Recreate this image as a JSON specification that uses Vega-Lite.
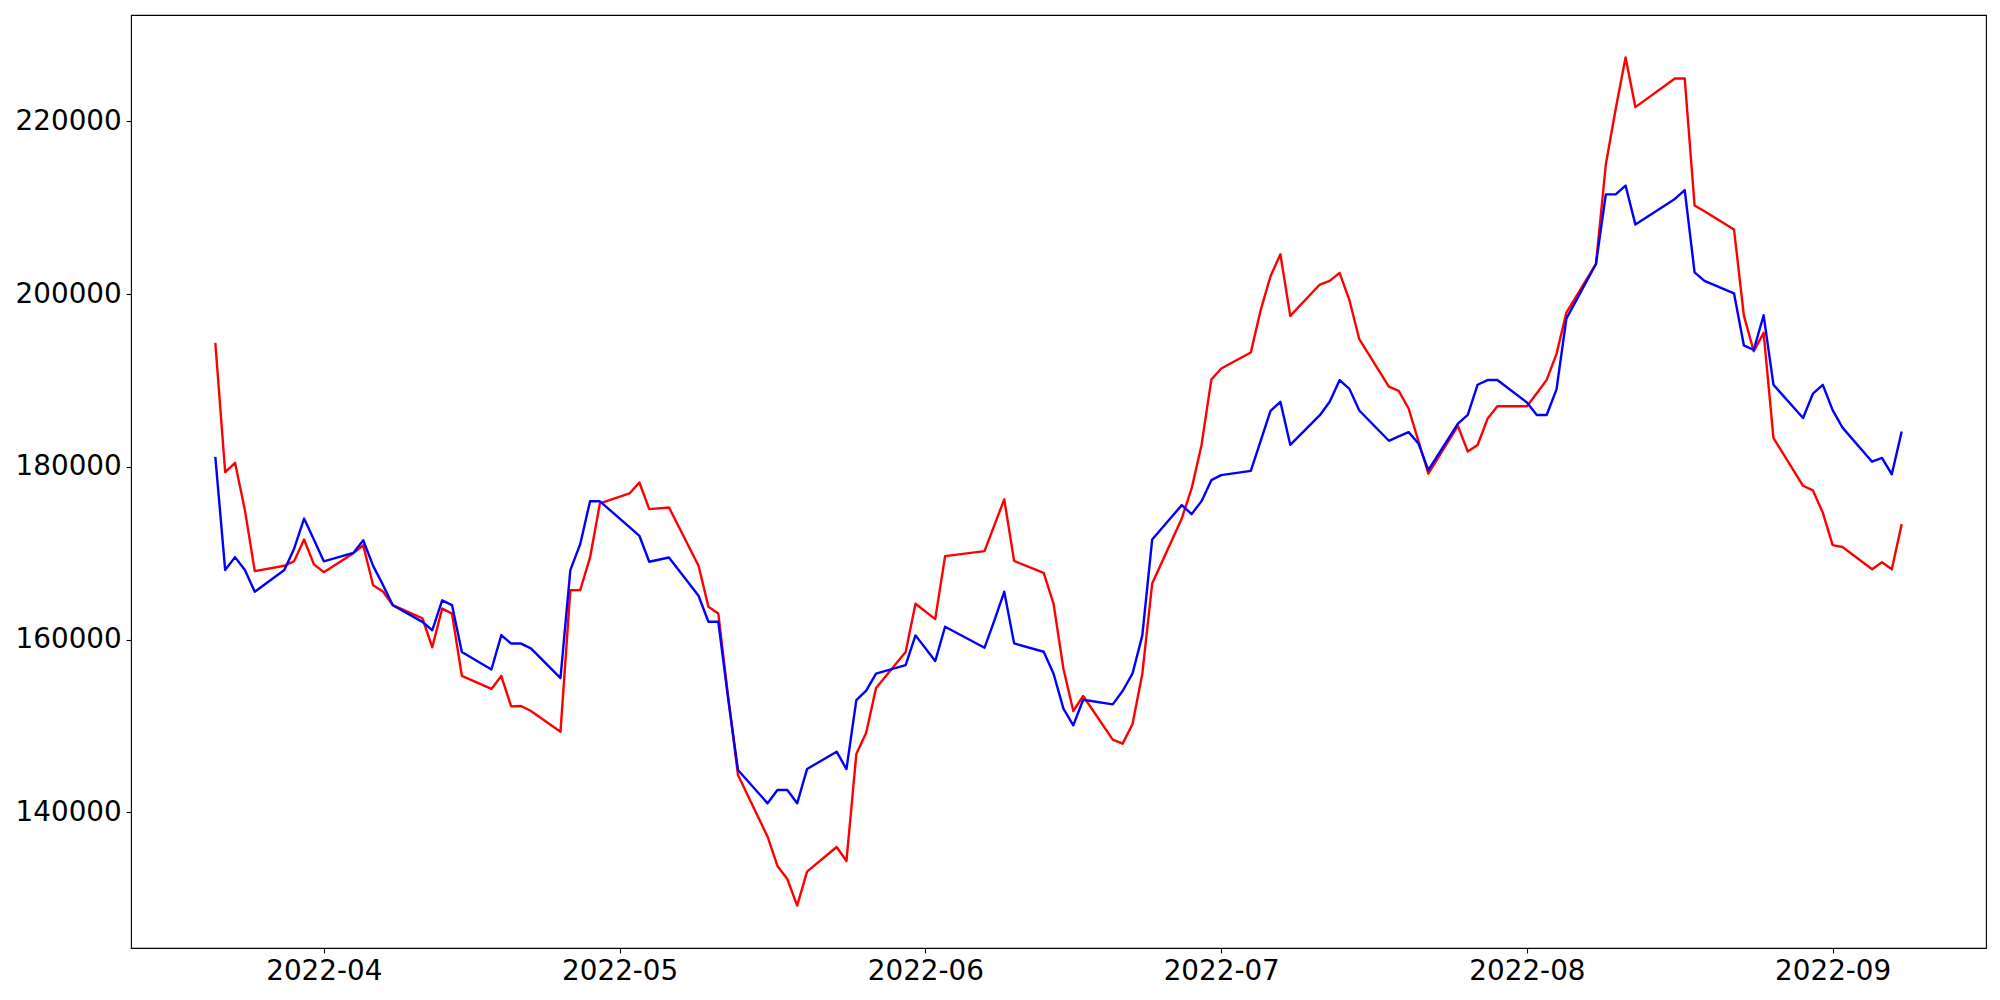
{
  "$schema": "https://vega.github.io/schema/vega-lite/v6.json",
  "width": 1855,
  "height": 933,
  "autosize": {"type": "none"},
  "padding": {"left": 131, "top": 15, "right": 14, "bottom": 52},
  "background": "white",
  "config": {
    "view": {"stroke": "black", "strokeWidth": 1.1},
    "axis": {
      "labelFont": "DejaVu Sans",
      "labelFontSize": 27.8,
      "labelColor": "black",
      "tickColor": "black",
      "tickSize": 4.9,
      "tickWidth": 1.1,
      "labelPadding": 4.9,
      "domain": false,
      "grid": false,
      "labelFlush": false,
      "labelOverlap": false
    }
  },
  "data": {
    "values": [
      {"date": "2022-03-21", "red": 194370, "blue": 181170},
      {"date": "2022-03-22", "red": 179400, "blue": 168060},
      {"date": "2022-03-23", "red": 180480, "blue": 169560},
      {"date": "2022-03-24", "red": 175000, "blue": 168060},
      {"date": "2022-03-25", "red": 167940, "blue": 165550},
      {"date": "2022-03-28", "red": 168560, "blue": 168060},
      {"date": "2022-03-29", "red": 169100, "blue": 170560},
      {"date": "2022-03-30", "red": 171600, "blue": 174020},
      {"date": "2022-03-31", "red": 168720, "blue": 171560},
      {"date": "2022-04-01", "red": 167820, "blue": 169070},
      {"date": "2022-04-04", "red": 170020, "blue": 170050},
      {"date": "2022-04-05", "red": 170930, "blue": 171510},
      {"date": "2022-04-06", "red": 166300, "blue": 168540},
      {"date": "2022-04-07", "red": 165570, "blue": 166340},
      {"date": "2022-04-08", "red": 163990, "blue": 163990},
      {"date": "2022-04-11", "red": 162480, "blue": 162060},
      {"date": "2022-04-12", "red": 159120, "blue": 161090},
      {"date": "2022-04-13", "red": 163600, "blue": 164560},
      {"date": "2022-04-14", "red": 163020, "blue": 164010},
      {"date": "2022-04-15", "red": 155800, "blue": 158580},
      {"date": "2022-04-18", "red": 154300, "blue": 156550},
      {"date": "2022-04-19", "red": 155790, "blue": 160530},
      {"date": "2022-04-20", "red": 152280, "blue": 159550},
      {"date": "2022-04-21", "red": 152320, "blue": 159550},
      {"date": "2022-04-22", "red": 151740, "blue": 158990},
      {"date": "2022-04-25", "red": 149330, "blue": 155540},
      {"date": "2022-04-26", "red": 165730, "blue": 168060},
      {"date": "2022-04-27", "red": 165740, "blue": 171060},
      {"date": "2022-04-28", "red": 169520, "blue": 176040},
      {"date": "2022-04-29", "red": 175780, "blue": 176020},
      {"date": "2022-05-02", "red": 176930, "blue": 173030},
      {"date": "2022-05-03", "red": 178200, "blue": 172030},
      {"date": "2022-05-04", "red": 175120, "blue": 169020},
      {"date": "2022-05-06", "red": 175310, "blue": 169520},
      {"date": "2022-05-09", "red": 168560, "blue": 165090},
      {"date": "2022-05-10", "red": 163810, "blue": 162080},
      {"date": "2022-05-11", "red": 163040, "blue": 162080},
      {"date": "2022-05-12", "red": 153400, "blue": 153200},
      {"date": "2022-05-13", "red": 144330, "blue": 144910},
      {"date": "2022-05-16", "red": 137190, "blue": 141050},
      {"date": "2022-05-17", "red": 133800, "blue": 142590},
      {"date": "2022-05-18", "red": 132290, "blue": 142590},
      {"date": "2022-05-19", "red": 129210, "blue": 141050},
      {"date": "2022-05-20", "red": 133140, "blue": 145020},
      {"date": "2022-05-23", "red": 135990, "blue": 147030},
      {"date": "2022-05-24", "red": 134380, "blue": 145020},
      {"date": "2022-05-25", "red": 146760, "blue": 153010},
      {"date": "2022-05-26", "red": 149230, "blue": 154090},
      {"date": "2022-05-27", "red": 154400, "blue": 156060},
      {"date": "2022-05-30", "red": 158570, "blue": 157060},
      {"date": "2022-05-31", "red": 164160, "blue": 160500},
      {"date": "2022-06-02", "red": 162380, "blue": 157520},
      {"date": "2022-06-03", "red": 169680, "blue": 161500},
      {"date": "2022-06-07", "red": 170260, "blue": 159070},
      {"date": "2022-06-08", "red": 173260, "blue": 162230},
      {"date": "2022-06-09", "red": 176250, "blue": 165550},
      {"date": "2022-06-10", "red": 169120, "blue": 159570},
      {"date": "2022-06-13", "red": 167740, "blue": 158600},
      {"date": "2022-06-14", "red": 164140, "blue": 156060},
      {"date": "2022-06-15", "red": 156640, "blue": 152010},
      {"date": "2022-06-16", "red": 151740, "blue": 150080},
      {"date": "2022-06-17", "red": 153480, "blue": 153050},
      {"date": "2022-06-20", "red": 148420, "blue": 152510},
      {"date": "2022-06-21", "red": 147960, "blue": 154060},
      {"date": "2022-06-22", "red": 150200, "blue": 156060},
      {"date": "2022-06-23", "red": 156060, "blue": 160500},
      {"date": "2022-06-24", "red": 166500, "blue": 171600},
      {"date": "2022-06-27", "red": 174040, "blue": 175580},
      {"date": "2022-06-28", "red": 177510, "blue": 174540},
      {"date": "2022-06-29", "red": 182520, "blue": 176040},
      {"date": "2022-06-30", "red": 190120, "blue": 178470},
      {"date": "2022-07-01", "red": 191400, "blue": 179050},
      {"date": "2022-07-04", "red": 193250, "blue": 179550},
      {"date": "2022-07-05", "red": 198150, "blue": 183030},
      {"date": "2022-07-06", "red": 202080, "blue": 186500},
      {"date": "2022-07-07", "red": 204630, "blue": 187540},
      {"date": "2022-07-08", "red": 197490, "blue": 182560},
      {"date": "2022-07-11", "red": 201120, "blue": 185990},
      {"date": "2022-07-12", "red": 201540, "blue": 187540},
      {"date": "2022-07-13", "red": 202470, "blue": 190050},
      {"date": "2022-07-14", "red": 199310, "blue": 189040},
      {"date": "2022-07-15", "red": 194790, "blue": 186540},
      {"date": "2022-07-18", "red": 189310, "blue": 183030},
      {"date": "2022-07-19", "red": 188810, "blue": 183530},
      {"date": "2022-07-20", "red": 186770, "blue": 184030},
      {"date": "2022-07-21", "red": 182990, "blue": 182720},
      {"date": "2022-07-22", "red": 179240, "blue": 179630},
      {"date": "2022-07-25", "red": 184760, "blue": 185010},
      {"date": "2022-07-26", "red": 181780, "blue": 186040},
      {"date": "2022-07-27", "red": 182540, "blue": 189520},
      {"date": "2022-07-28", "red": 185570, "blue": 190060},
      {"date": "2022-07-29", "red": 187040, "blue": 190060},
      {"date": "2022-08-01", "red": 187030, "blue": 187470},
      {"date": "2022-08-02", "red": 188530, "blue": 186010},
      {"date": "2022-08-03", "red": 190080, "blue": 186010},
      {"date": "2022-08-04", "red": 193090, "blue": 188980},
      {"date": "2022-08-05", "red": 197880, "blue": 197170},
      {"date": "2022-08-08", "red": 203500, "blue": 203500},
      {"date": "2022-08-09", "red": 215020, "blue": 211560},
      {"date": "2022-08-10", "red": 221440, "blue": 211560},
      {"date": "2022-08-11", "red": 227420, "blue": 212580},
      {"date": "2022-08-12", "red": 221660, "blue": 208060},
      {"date": "2022-08-16", "red": 224980, "blue": 211030},
      {"date": "2022-08-17", "red": 224980, "blue": 212050},
      {"date": "2022-08-18", "red": 210280, "blue": 202530},
      {"date": "2022-08-19", "red": 209610, "blue": 201550},
      {"date": "2022-08-22", "red": 207490, "blue": 200090},
      {"date": "2022-08-23", "red": 197520, "blue": 194070},
      {"date": "2022-08-24", "red": 193400, "blue": 193540},
      {"date": "2022-08-25", "red": 195530, "blue": 197570},
      {"date": "2022-08-26", "red": 183350, "blue": 189510},
      {"date": "2022-08-29", "red": 177820, "blue": 185660},
      {"date": "2022-08-30", "red": 177280, "blue": 188490},
      {"date": "2022-08-31", "red": 174710, "blue": 189510},
      {"date": "2022-09-01", "red": 170950, "blue": 186580},
      {"date": "2022-09-02", "red": 170730, "blue": 184550},
      {"date": "2022-09-05", "red": 168160, "blue": 180610},
      {"date": "2022-09-06", "red": 168960, "blue": 181050},
      {"date": "2022-09-07", "red": 168160, "blue": 179150},
      {"date": "2022-09-08", "red": 173380, "blue": 184100}
    ]
  },
  "layer": [
    {
      "mark": {"type": "line", "color": "#ff0000", "strokeWidth": 2.4, "strokeJoin": "round"},
      "encoding": {
        "x": {
          "field": "date",
          "type": "temporal",
          "scale": {
            "type": "utc",
            "domain": [
              {"year": 2022, "month": 3, "date": 12, "hours": 10, "minutes": 48, "utc": true},
              {"year": 2022, "month": 9, "date": 16, "hours": 13, "minutes": 12, "utc": true}
            ],
            "nice": false
          },
          "axis": {
            "title": null,
            "labelExpr": "utcFormat(datum.value, '%Y-%m')",
            "values": [
              {"year": 2022, "month": 4, "date": 1, "utc": true},
              {"year": 2022, "month": 5, "date": 1, "utc": true},
              {"year": 2022, "month": 6, "date": 1, "utc": true},
              {"year": 2022, "month": 7, "date": 1, "utc": true},
              {"year": 2022, "month": 8, "date": 1, "utc": true},
              {"year": 2022, "month": 9, "date": 1, "utc": true}
            ]
          }
        },
        "y": {
          "field": "red",
          "type": "quantitative",
          "scale": {"domain": [124300, 232330], "nice": false, "zero": false},
          "axis": {
            "title": null,
            "format": "d",
            "values": [140000, 160000, 180000, 200000, 220000]
          }
        }
      }
    },
    {
      "mark": {"type": "line", "color": "#0000ff", "strokeWidth": 2.4, "strokeJoin": "round"},
      "encoding": {
        "x": {"field": "date", "type": "temporal"},
        "y": {"field": "blue", "type": "quantitative"}
      }
    }
  ]
}
